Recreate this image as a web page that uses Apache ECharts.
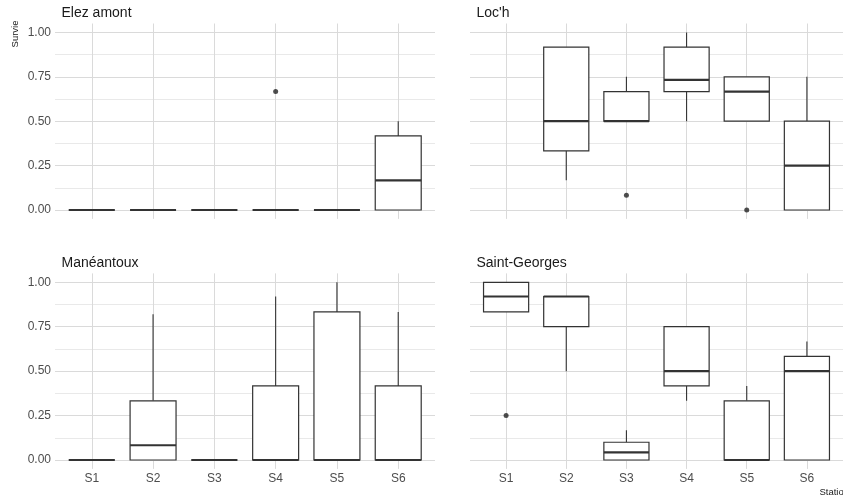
<!DOCTYPE html>
<html><head><meta charset="utf-8">
<script src="https://cdn.jsdelivr.net/npm/echarts@6/dist/echarts.min.js"></script>
<style>html,body{margin:0;padding:0;background:#fff}#c{width:843px;height:497px}</style>
</head><body><div id="c"></div>
<script>
const stations = ['S1', 'S2', 'S3', 'S4', 'S5', 'S6'];
const stationPos = [1, 2, 3, 4, 5, 6];
const panelTitles = ['Elez amont', "Loc'h", 'Manéantoux', 'Saint-Georges'];
const yTicks = [0, 0.25, 0.5, 0.75, 1];
const yMinorTicks = [0.125, 0.375, 0.625, 0.875];
// box stats per station: [position, lower whisker, Q1, median, Q3, upper whisker]
const elezBoxes = [[1,0,0,0,0,0],[2,0,0,0,0,0],[3,0,0,0,0,0],[4,0,0,0,0,0],[5,0,0,0,0,0],[6,0,0,0.167,0.417,0.5]];
const elezOutliers = [[4,0.667]];
const lochBoxes = [[2,0.167,0.333,0.5,0.917,0.917],[3,0.5,0.5,0.5,0.667,0.75],[4,0.5,0.667,0.733,0.917,1],[5,0.5,0.5,0.667,0.75,0.75],[6,0,0,0.25,0.5,0.75]];
const lochOutliers = [[3,0.083],[5,0]];
const maneBoxes = [[1,0,0,0,0,0],[2,0,0,0.083,0.333,0.82],[3,0,0,0,0,0],[4,0,0,0,0.417,0.92],[5,0,0,0,0.833,1],[6,0,0,0,0.417,0.833]];
const maneOutliers = [];
const stgBoxes = [[1,0.833,0.833,0.92,1,1],[2,0.5,0.75,0.92,0.92,0.92],[3,0,0,0.043,0.1,0.167],[4,0.333,0.417,0.5,0.75,0.75],[5,0,0,0,0.333,0.417],[6,0,0,0.5,0.583,0.667]];
const stgOutliers = [[1,0.25]];

const allBoxes = [elezBoxes, lochBoxes, maneBoxes, stgBoxes];
const allOutliers = [elezOutliers, lochOutliers, maneOutliers, stgOutliers];

const grids = [
  {left: 55, top: 23.5, width: 380, height: 195.4},
  {left: 470, top: 23.5, width: 379, height: 195.4},
  {left: 55, top: 273.4, width: 380, height: 195.5},
  {left: 470, top: 273.4, width: 379, height: 195.5}
];
const FONT = 'Liberation Sans, Arial, sans-serif';
const majorColor = '#dadada';
const minorColor = '#e9e9e9';
const boxColor = '#333333';

function renderBox(params, api) {
  const x = api.value(0);
  const lo = api.coord([x, api.value(1)]);
  const q1 = api.coord([x, api.value(2)]);
  const med = api.coord([x, api.value(3)]);
  const q3 = api.coord([x, api.value(4)]);
  const hi = api.coord([x, api.value(5)]);
  const half = api.size([0.75, 0])[0] / 2;
  const cx = lo[0];
  return {
    type: 'group',
    children: [
      {type: 'line', shape: {x1: cx, y1: hi[1], x2: cx, y2: q3[1]}, style: {stroke: boxColor, lineWidth: 1.1}},
      {type: 'line', shape: {x1: cx, y1: q1[1], x2: cx, y2: lo[1]}, style: {stroke: boxColor, lineWidth: 1.1}},
      {type: 'rect', shape: {x: cx - half, y: q3[1], width: 2 * half, height: q1[1] - q3[1]},
        style: {fill: '#ffffff', stroke: boxColor, lineWidth: 1.2}},
      {type: 'line', shape: {x1: cx - half, y1: med[1], x2: cx + half, y2: med[1]}, style: {stroke: boxColor, lineWidth: 2.2}}
    ]
  };
}

const xAxes = [], yAxes = [], series = [], graphics = [];
grids.forEach((g, i) => {
  xAxes.push({
    gridIndex: i, type: 'value', min: 0.4, max: 6.6,
    axisLine: {show: false},
    axisTick: {show: false, customValues: stationPos},
    axisLabel: {show: i >= 2, customValues: stationPos, formatter: v => stations[Math.round(v) - 1],
      color: '#4d4d4d', fontSize: 12, fontFamily: FONT, margin: 4},
    splitLine: {show: true, lineStyle: {color: majorColor, width: 1}}
  });
  yAxes.push({
    gridIndex: i, type: 'value', min: -0.05, max: 1.05,
    axisLine: {show: false},
    axisTick: {show: false, customValues: yTicks},
    axisLabel: {show: i % 2 === 0, customValues: yTicks, formatter: v => v.toFixed(2),
      color: '#4d4d4d', fontSize: 12, fontFamily: FONT, margin: 4},
    splitLine: {show: true, lineStyle: {color: majorColor, width: 1}}
  });
  yAxes.push({
    gridIndex: i, type: 'value', min: -0.05, max: 1.05,
    axisLine: {show: false},
    axisTick: {show: false, customValues: yMinorTicks},
    axisLabel: {show: false},
    splitLine: {show: true, lineStyle: {color: minorColor, width: 1}}
  });
  series.push({
    type: 'custom', xAxisIndex: i, yAxisIndex: 2 * i, z: 2,
    renderItem: renderBox, encode: {x: 0, y: [1, 2, 3, 4, 5]},
    data: allBoxes[i], silent: true, clip: false
  });
  series.push({
    type: 'scatter', xAxisIndex: i, yAxisIndex: 2 * i, z: 4,
    symbolSize: 5, itemStyle: {color: '#222222'},
    data: allOutliers[i], silent: true
  });
  graphics.push({
    type: 'text', x: g.left + 6.5, y: g.top - 10.5,
    style: {text: panelTitles[i], font: '14px ' + FONT, fill: '#1a1a1a', verticalAlign: 'middle'}
  });
});
graphics.push({type: 'text', x: 15.5, y: 20.5, rotation: Math.PI / 2,
  style: {text: 'Survie', font: '9.5px ' + FONT, fill: '#1a1a1a', align: 'right', verticalAlign: 'middle'}});
graphics.push({type: 'text', x: 849, y: 492.5,
  style: {text: 'Station', font: '9.5px ' + FONT, fill: '#1a1a1a', align: 'right', verticalAlign: 'middle'}});

const chart = echarts.init(document.getElementById('c'), null, {renderer: 'canvas'});
chart.setOption({
  animation: false,
  backgroundColor: '#ffffff',
  grid: grids,
  xAxis: xAxes,
  yAxis: yAxes,
  series: series,
  graphic: graphics
});
</script></body></html>
